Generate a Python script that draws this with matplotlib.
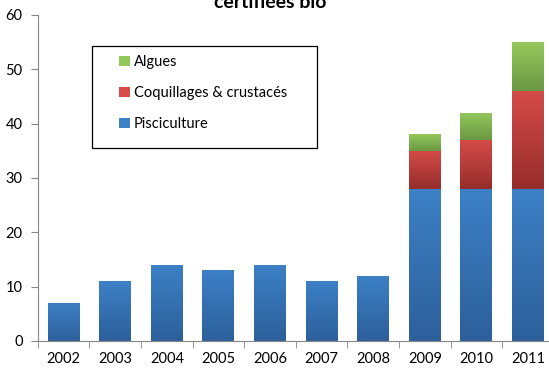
import numpy as np
import matplotlib
matplotlib.use("Agg")
import matplotlib.pyplot as plt
from matplotlib.colors import LinearSegmentedColormap
from matplotlib.patches import Patch, Rectangle

plt.rcParams['font.family'] = ['Lato', 'DejaVu Sans']

years = ['2002', '2003', '2004', '2005', '2006', '2007', '2008', '2009', '2010', '2011']
pisciculture = [7, 11, 14, 13, 14, 11, 12, 28, 28, 28]
coquillages = [0, 0, 0, 0, 0, 0, 0, 7, 9, 18]
algues = [0, 0, 0, 0, 0, 0, 0, 3, 5, 9]
series_names = ['Pisciculture', 'Coquillages & crustacés', 'Algues']

# (top colour, bottom colour) for each series
grads = [('#3c80c6', '#2d609b'),
         ('#d44b48', '#962d2b'),
         ('#93c85b', '#6c9843')]

fig = plt.figure(figsize=(5.49, 3.69), dpi=100)
ax = fig.add_axes([0.0689, 0.0759, 0.94, 0.884])

x = np.arange(len(years))
bottom = np.zeros(len(years))
for vals, (top_c, bot_c) in zip([pisciculture, coquillages, algues], grads):
    vals = np.array(vals, dtype=float)
    bars = ax.bar(x, vals, width=0.62, bottom=bottom, color='none', edgecolor='none')
    cmap = LinearSegmentedColormap.from_list('g', [bot_c, top_c])
    grad = np.linspace(0, 1, 64).reshape(-1, 1)
    for b, v, b0 in zip(bars, vals, bottom):
        if v <= 0:
            continue
        im = ax.imshow(grad, cmap=cmap, origin='lower', aspect='auto',
                       extent=[b.get_x(), b.get_x() + b.get_width(), b0, b0 + v],
                       zorder=2)
        im.set_clip_path(b)
    bottom += vals

ax.set_xlim(-0.5, len(years) - 0.5)
ax.set_ylim(0, 60)
ax.set_yticks(range(0, 61, 10))
ax.set_xticks(x)
ax.set_xticklabels(years)
ax.set_xticks(np.arange(-0.5, len(years)), minor=True)
ax.tick_params(axis='x', which='major', length=0, labelsize=10.5, pad=8)
ax.tick_params(axis='x', which='minor', length=5, color='#868686')
ax.tick_params(axis='y', length=5, color='#868686', labelsize=10.5, pad=6)
for s in ['top', 'right']:
    ax.spines[s].set_visible(False)
for s in ['left', 'bottom']:
    ax.spines[s].set_color('#868686')

# legend with a wide Excel-style frame
fig.patches.append(Rectangle((91.5 / 549, 1 - 148 / 369), (317 - 91.5) / 549, (148 - 45.5) / 369,
                             transform=fig.transFigure, facecolor='white',
                             edgecolor='black', linewidth=0.9, zorder=5))
handles = [Patch(facecolor=grads[i][0], edgecolor='none') for i in (2, 1, 0)]
labels = [series_names[i] for i in (2, 1, 0)]
fig.legend(handles, labels, loc='upper left', bbox_to_anchor=(112 / 549, 1 - 48 / 369),
           frameon=False, fontsize=10.5, handlelength=0.7, handleheight=0.7,
           handletextpad=0.3, labelspacing=1.15, borderpad=0)

# title is cropped at the top edge, as in the source image
fig.text(270 / 549, 1 - 8.5 / 369, 'certifiées bio', ha='center', va='baseline',
         fontsize=14, fontweight='bold')

fig.savefig('out.png', dpi=100)
